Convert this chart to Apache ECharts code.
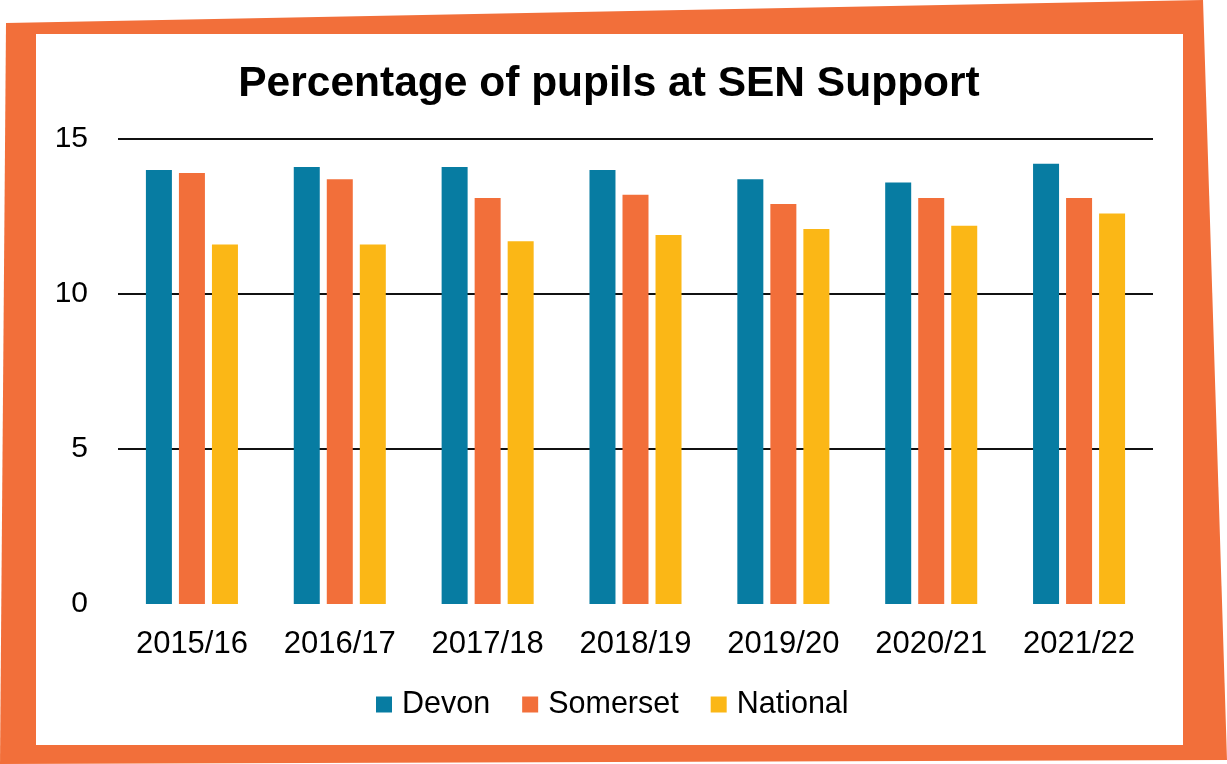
<!DOCTYPE html>
<html>
<head>
<meta charset="utf-8">
<script src="https://cdn.jsdelivr.net/npm/echarts@6/dist/echarts.min.js"></script>
<style>
  html, body { margin: 0; padding: 0; background: #ffffff; }
  #chart { width: 1227px; height: 764px; }
</style>
</head>
<body>
<div id="chart"></div>
<script>
// School years shown on the category axis
const years = ['2015/16', '2016/17', '2017/18', '2018/19', '2019/20', '2020/21', '2021/22'];

// Percentage of pupils at SEN Support, by area
const devon    = [14.0, 14.1, 14.1, 14.0, 13.7, 13.6, 14.2];
const somerset = [13.9, 13.7, 13.1, 13.2, 12.9, 13.1, 13.1];
const national = [11.6, 11.6, 11.7, 11.9, 12.1, 12.2, 12.6];

const seriesNames = ['Devon', 'Somerset', 'National'];
const seriesColors = ['#077CA2', '#F26F3A', '#FBB716'];
const FONT = 'Liberation Sans, Arial, sans-serif';

const chart = echarts.init(document.getElementById('chart'), null, { renderer: 'canvas' });

function barSeries(name, data, color) {
  return {
    name: name,
    type: 'bar',
    data: data,
    barWidth: 26,
    barGap: '27%',
    itemStyle: { color: color },
    emphasis: { disabled: true }
  };
}

chart.setOption({
  animation: false,
  backgroundColor: '#ffffff',
  graphic: [
    {
      // orange hand-cut frame behind the panel
      type: 'polygon',
      z: -10,
      shape: { points: [[6, 23], [1203, 0], [1227, 760], [0, 764]] },
      style: { fill: '#F26F3A' },
      silent: true
    },
    {
      type: 'rect',
      z: -9,
      shape: { x: 36, y: 34, width: 1147, height: 711 },
      style: { fill: '#ffffff' },
      silent: true
    }
  ],
  title: {
    text: 'Percentage of pupils at SEN Support',
    left: 604,
    textAlign: 'center',
    top: 58,
    textStyle: { fontFamily: FONT, fontSize: 42.5, fontWeight: 'bold', color: '#000' }
  },
  legend: {
    data: seriesNames,
    left: 371,
    top: 684,
    itemWidth: 16,
    itemHeight: 16,
    itemGap: 32,
    icon: 'rect',
    textStyle: { fontFamily: FONT, fontSize: 30.5, color: '#000', padding: [0, 0, 0, 5] }
  },
  grid: { left: 118, right: 74, top: 139, bottom: 160, containLabel: false },
  xAxis: {
    type: 'category',
    data: years,
    axisLine: { show: false },
    axisTick: { show: false },
    axisLabel: { fontFamily: FONT, fontSize: 31, color: '#000', margin: 25 }
  },
  yAxis: {
    type: 'value',
    min: 0,
    max: 15,
    interval: 5,
    axisLine: { show: false },
    axisTick: { show: false },
    axisLabel: { fontFamily: FONT, fontSize: 30, color: '#000', margin: 30 },
    splitLine: {
      show: true,
      lineStyle: { color: '#111', width: 2 },
      showMinLine: false
    }
  },
  series: [
    barSeries(seriesNames[0], devon, seriesColors[0]),
    barSeries(seriesNames[1], somerset, seriesColors[1]),
    barSeries(seriesNames[2], national, seriesColors[2])
  ]
});
</script>
</body>
</html>
